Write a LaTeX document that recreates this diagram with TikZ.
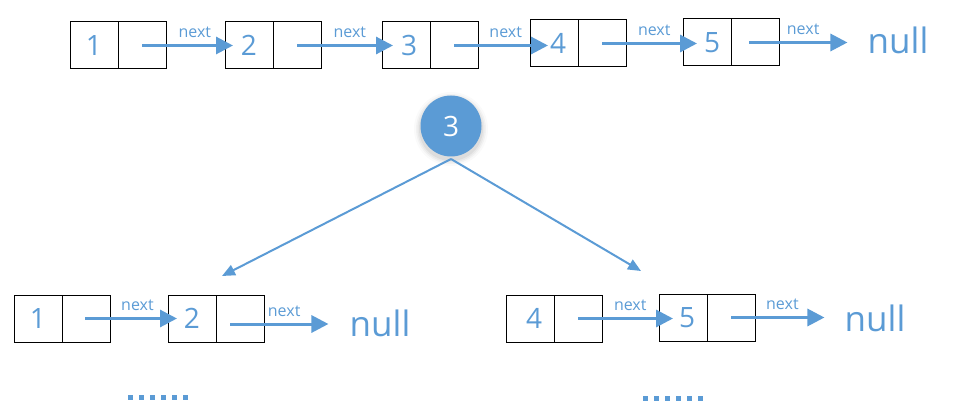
\documentclass[tikz,border=0pt]{standalone}
\usepackage{fontspec}
\setmainfont{Open Sans}
\usetikzlibrary{arrows.meta,calc}
\definecolor{blu}{HTML}{5B9BD5}
\tikzset{
  cell/.style={draw=black, line width=1pt, minimum width=48pt, minimum height=47pt, inner sep=0pt, outer sep=0pt},
  num/.style={text=blu, font=\fontsize{28}{28}\selectfont, inner sep=0pt},
  lbl/.style={text=blu, font=\fontsize{16}{16}\selectfont, inner sep=0pt},
  nul/.style={text=blu, font=\fontsize{35}{35}\selectfont, inner sep=0pt},
  ptr/.style={draw=blu, line width=3pt, -{Triangle[length=17pt,width=17pt]}},
  tree/.style={draw=blu, line width=2pt, -{Triangle[length=13pt,width=11pt]}},
  dots/.style={draw=blu, line width=5pt, dash pattern=on 5pt off 6pt}
}
% #1 name, #2 left x, #3 top y, #4 digit, #5 digit x shift
\newcommand\llnode[5]{%
  \node[cell,anchor=north west] (#1d) at (#2,#3) {};
  \node[cell,anchor=west] (#1p) at (#1d.east) {};
  \node[num,xshift=#5] (#1t) at (#1d) {#4};
}
\begin{document}
\begin{tikzpicture}[x=1pt,y=-1pt]
\useasboundingbox (0,0) rectangle (966,414);
% top list
\llnode{a1}{70}{22}{1}{0pt}
\llnode{a2}{225}{22}{2}{0pt}
\llnode{a3}{382}{22}{3}{3pt}
\llnode{a4}{530}{20}{4}{4pt}
\llnode{a5}{683}{19}{5}{5pt}
\node[nul] (an) at (898,40) {null};
\draw[ptr] (a1p.center) -- ([xshift=8pt]a2d.west |- a1p.center) node[lbl,above=6pt,pos=0.58] {next};
\draw[ptr] (a2p.center) -- ([xshift=11pt]a3d.west |- a2p.center) node[lbl,above=6pt,pos=0.55] {next};
\draw[ptr] (a3p.center) -- ([xshift=18pt]a4d.west |- a3p.center) node[lbl,above=6pt,pos=0.55] {next};
\draw[ptr] (a4p.center) -- ([xshift=14pt]a5d.west |- a4p.center) node[lbl,above=6pt,pos=0.55] {next};
\draw[ptr] ([xshift=-6pt]a5p.center) -- ([xshift=-20pt]an.west |- a5p.center) node[lbl,above=6pt,pos=0.55] {next};
% root
\foreach \r/\o in {37/0.02,35/0.03,33.5/0.04,32/0.05}{
  \fill[black,opacity=\o] (451,129) circle[radius=\r];
}
\node[circle, fill=blu, minimum size=61pt, inner sep=0pt, text=white, font=\fontsize{28}{28}\selectfont] (root) at (451,126) {3};
\coordinate (rs) at (451,159);
\coordinate (tl) at (222,276);
\coordinate (tr) at (641,271);
\draw[tree] (rs) -- (tl);
\draw[tree] (rs) -- (tr);
% bottom left list
\llnode{b1}{14}{295}{1}{0pt}
\llnode{b2}{168}{295}{2}{0pt}
\node[nul] (bn) at (380,323) {null};
\draw[ptr] ([xshift=-1pt]b1p.center) -- ([xshift=9pt]b2d.west |- b1p.center) node[lbl,above=6pt,pos=0.57] {next};
\draw[ptr] ([xshift=-10pt,yshift=-5.5pt]b2p.center) -- ([xshift=-21pt,yshift=-5.5pt]bn.west |- b2p.center) node[lbl,above=6pt,pos=0.55] {next};
\draw[dots] (128,397) -- (190,397);
% bottom right list
\llnode{c1}{506}{295}{4}{4pt}
\llnode{c2}{659}{294}{5}{4pt}
\node[nul] (cn) at (875,318) {null};
\draw[ptr] (c1p.center) -- ([xshift=14pt]c2d.west |- c1p.center) node[lbl,above=6pt,pos=0.55] {next};
\draw[ptr] (c2p.center) -- ([xshift=-20pt]cn.west |- c2p.center) node[lbl,above=6pt,pos=0.55] {next};
\draw[dots] (643,398) -- (705,398);
\end{tikzpicture}
\end{document}
